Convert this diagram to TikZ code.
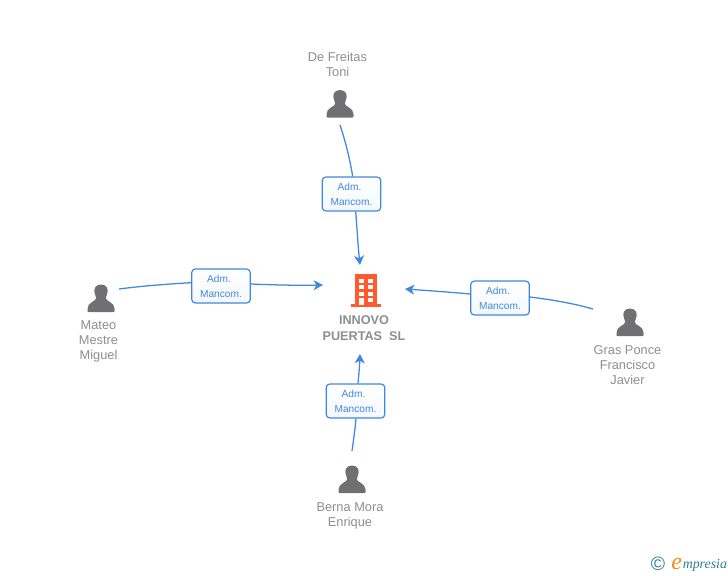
\documentclass[tikz,border=0pt]{standalone}
\usepackage{fontspec}
\usepackage{xcolor}
\setmainfont{Liberation Sans}
\newfontfamily\logofont{Liberation Serif}
\usetikzlibrary{arrows.meta}
\definecolor{linkblue}{HTML}{3F87E0}
\definecolor{namegray}{HTML}{8E8E8E}
\definecolor{icongray}{HTML}{707073}
\definecolor{firmorange}{HTML}{FF5B2E}
\definecolor{logoteal}{HTML}{2F7C93}
\definecolor{logoorange}{HTML}{F28A1E}
\newcommand{\rolelabel}{Adm.\hspace*{3pt}\\Mancom.}
\tikzset{
    x=0.75pt, y=-0.75pt,
    role/.style={rectangle,draw=linkblue,line width=0.9pt,rounded corners=2.8pt,top color=white,bottom color=linkblue!6,text=linkblue,
        font=\fontsize{7.6pt}{11.2pt}\selectfont,align=center,minimum width=44pt,minimum height=25.5pt,inner sep=0pt},
    person/.style={text=namegray,font=\fontsize{9.6pt}{11.25pt}\selectfont,align=center,inner sep=0pt},
    firm/.style={text=namegray,font=\fontsize{9.5pt}{11.25pt}\selectfont\bfseries,align=center,inner sep=0pt},
    link/.style={draw=linkblue,line width=0.95pt},
    linkto/.style={link,-{Stealth[length=7pt,width=7.5pt,inset=2pt]}},
    personicon/.pic={
        \fill[icongray] (0,-14) .. controls (-6.5,-14) and (-7.5,-8.5) .. (-6.2,-5)
            .. controls (-5.6,-3.2) and (-4.8,-2.5) .. (-4.8,-0.5)
            .. controls (-4.8,3) and (-13.5,3.5) .. (-13.5,10) -- (-13.5,12) .. controls (-13.5,13.5) .. (-12,13.5)
            -- (12,13.5) .. controls (13.5,13.5) .. (13.5,12) -- (13.5,10)
            .. controls (13.5,3.5) and (4.8,3) .. (4.8,-0.5)
            .. controls (4.8,-2.5) and (5.6,-3.2) .. (6.2,-5)
            .. controls (7.5,-8.5) and (6.5,-14) .. (0,-14) -- cycle;
    },
}
\begin{document}
\begin{tikzpicture}
    \useasboundingbox (0,0) rectangle (728,575);

    % company
    \fill[firmorange] (354.5,274) rectangle (377,304);
    \fill[firmorange] (350.5,304) rectangle (381,307);
    \foreach \ypos in {278.5,285,291.5} {
        \fill[white] (359,\ypos) rectangle (363.5,\ypos+4);
        \fill[white] (368,\ypos) rectangle (372.5,\ypos+4);
    }
    \fill[white] (359,298) rectangle (363.5,305);
    \fill[white] (368,298) rectangle (372.5,302);
    \node[firm] (innovo) at (364,328) {INNOVO\\[0.6pt]PUERTAS\ \ SL};

    % people
    \pic at (340,104) {personicon};
    \pic at (101,298.5) {personicon};
    \pic at (630,322.5) {personicon};
    \pic at (352,479.5) {personicon};
    \node[person] (toni) at (337.5,64.5) {De Freitas\\Toni};
    \node[person] (mateo) at (98.5,341) {Mateo\\Mestre\\Miguel};
    \node[person] (gras) at (627.5,365) {Gras Ponce\\Francisco\\Javier};
    \node[person] (berna) at (350,515.5) {Berna Mora\\Enrique};

    % roles
    \node[role] (admtoni) at (351.5,194) {\rolelabel};
    \node[role] (admmateo) at (221,286) {\rolelabel};
    \node[role] (admgras) at (500,298) {\rolelabel};
    \node[role] (admberna) at (355.5,401) {\rolelabel};

    % free ends
    \coordinate (fromtoni) at (340,125);
    \coordinate (totoni) at (360,265);
    \coordinate (frommateo) at (119,289);
    \coordinate (tomateo) at (323,285);
    \coordinate (fromgras) at (593,309);
    \coordinate (togras) at (405,289);
    \coordinate (fromberna) at (352,451);
    \coordinate (toberna) at (360,354);

    \draw[link] (fromtoni) .. controls (346,143) and (350,160) .. (admtoni.north -| 352.7,0);
    \draw[linkto] (admtoni.south -| 355.7,0) .. controls (357,228) and (358,246) .. (totoni);
    \draw[link] (frommateo) .. controls (142,286) and (168,284) .. (admmateo.west |- 0,282.7);
    \draw[linkto] (admmateo.east |- 0,284) .. controls (275,285) and (298,285.5) .. (tomateo);
    \draw[link] (fromgras) .. controls (572,303) and (550,299.5) .. (admgras.east |- 0,297);
    \draw[linkto] (admgras.west |- 0,294) .. controls (448,292) and (427,290.5) .. (togras);
    \draw[link] (fromberna) .. controls (353.5,440) and (355,430) .. (admberna.south -| 356,0);
    \draw[linkto] (admberna.north -| 358,0) .. controls (359,373) and (359.7,364) .. (toberna);

    % logo
    \node[text=logoteal,inner sep=0pt,font=\fontsize{14.5pt}{14.5pt}\selectfont] (copyright) at (658,564) {©};
    \node[text=logoorange,inner sep=0pt,anchor=base west,font=\logofont\itshape\fontsize{18pt}{18pt}\selectfont] (logoe) at (671,569) {e};
    \node[text=logoteal,inner sep=0pt,anchor=base west,font=\logofont\itshape\fontsize{10.4pt}{10.4pt}\selectfont] (logotext) at (682.5,568) {mpresia};
\end{tikzpicture}
\end{document}
